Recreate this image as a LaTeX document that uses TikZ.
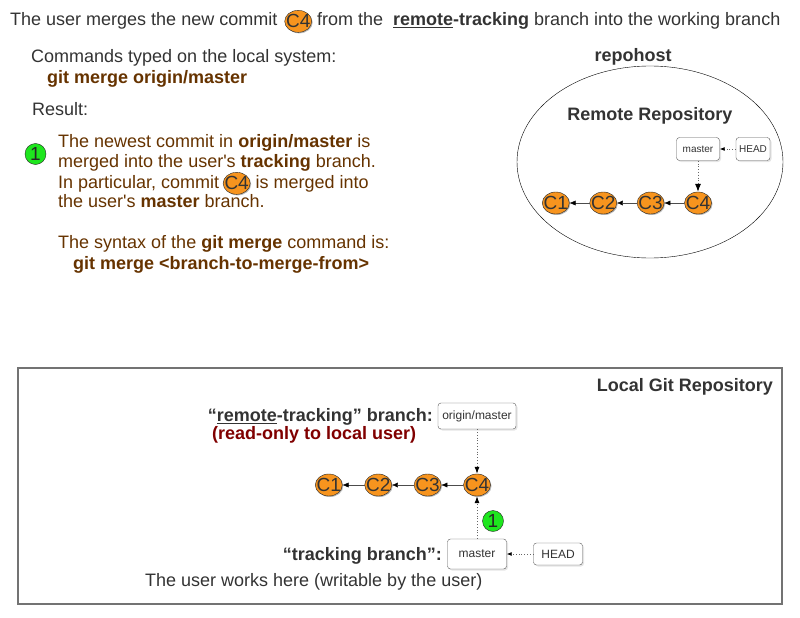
\documentclass[tikz,border=0pt]{standalone}
\usepackage{fontspec}
\setmainfont{Liberation Sans}
\usetikzlibrary{positioning,shapes.geometric,shadows,arrows.meta}
\definecolor{brownish}{RGB}{102,51,0}
\definecolor{darkred}{RGB}{128,0,0}
\definecolor{commitfill}{RGB}{247,148,30}
\definecolor{onefill}{RGB}{30,230,30}

\begin{document}
\begin{tikzpicture}[x=1pt,y=-1pt,
    txt/.style={inner sep=0pt,text=black!80,font=\fontsize{18}{20}\selectfont},
    brn/.style={txt,text=brownish},
    commit/.style={ellipse,draw=black!85,fill=commitfill,text=black!80,
      minimum width=27pt,minimum height=22pt,inner sep=-3pt,
      font=\fontsize{19}{19}\selectfont,
      drop shadow={shadow xshift=1pt,shadow yshift=-1pt,fill=black!55}},
    one/.style={circle,draw=black!85,fill=onefill,text=black!85,
      minimum size=21pt,inner sep=-3pt,font=\fontsize{19}{19}\selectfont},
    ref/.style={draw=black!65,rounded corners=3pt,fill=white,text=black!80,inner sep=0pt,
      drop shadow={shadow xshift=1.5pt,shadow yshift=-1.5pt,fill=black!20}},
    link/.style={draw=black!70,-{Latex[length=6pt,width=5pt,color=black]}},
    ptr/.style={dotted,thick,draw=black!60,-{Latex[length=5pt,width=4pt,color=black]}},
    bigptr/.style={ptr,-{Latex[length=8pt,width=6pt,color=black]}}]
  \useasboundingbox (0,0) rectangle (800,618);

  % heading
  \node[txt,anchor=base west] (title1) at (10,26) {The user merges the new commit};
  \node[commit,right=7pt of title1] (t4) {C4};
  \node[txt,anchor=base west,xshift=5pt] (title2) at (t4.east |- title1.base)
    {from the\ \ \textbf{\underline{remote}-tracking} branch into the working branch};

  % left column
  \node[txt,anchor=base west] (cmd) at (31,63) {Commands typed on the local system:};
  \node[brn,anchor=base west] (cmd2) at (47,83) {\textbf{git merge origin/master}};
  \node[txt,anchor=base west] (res) at (32,115) {Result:};

  \node[one] (n1) at (35.5,154) {1};
  \node[brn,anchor=base west] (p1) at (58,147) {The newest commit in \textbf{origin/master} is};
  \node[brn,anchor=base west] (p2) at (58,167.5) {merged into the user\textquotesingle s \textbf{tracking} branch.};
  \node[brn,anchor=base west] (p3) at (58,188) {In particular, commit};
  \node[commit,right=3.5pt of p3] (p4) {C4};
  \node[brn,anchor=base west,xshift=5pt] (p3b) at (p4.east |- p3.base) {is merged into};
  \node[brn,anchor=base west] (p5) at (58,207.5) {the user\textquotesingle s \textbf{master} branch.};
  \node[brn,anchor=base west] (syn) at (58,248) {The syntax of the \textbf{git merge} command is:};
  \node[brn,anchor=base west] (syn2) at (73,269.5) {\textbf{git merge <branch-to-merge-from>}};

  % remote side
  \node[txt,anchor=base] (host) at (633,62) {\textbf{repohost}};
  \node[draw,ellipse,thin,minimum width=266pt,minimum height=192pt] (remote) at (650,162) {};
  \node[txt,anchor=base] (rname) at (650,120) {\textbf{Remote Repository}};

  \node[ref,minimum width=43pt,minimum height=23pt,font=\fontsize{10}{10}\selectfont] (rmaster) at (698,149) {master};
  \node[ref,minimum width=34pt,minimum height=23pt,font=\fontsize{10}{10}\selectfont] (rhead) at (753,149) {HEAD};
  \node[commit] (r4) at (698,203) {C4};
  \node[commit,left=20pt of r4] (r3) {C3};
  \node[commit,left=20pt of r3] (r2) {C2};
  \node[commit,left=20pt of r2] (r1) {C1};

  \draw[ptr] (rhead) -- (rmaster);
  \draw[bigptr] (rmaster) -- (r4);
  \draw[link] (r4) -- (r3);
  \draw[link] (r3) -- (r2);
  \draw[link] (r2) -- (r1);

  % local repository
  \node[draw=black!55,line width=1.5pt,minimum width=764pt,minimum height=236pt] (local) at (400,486) {};
  \node[txt,anchor=base east] (lname) at (773,391) {\textbf{Local Git Repository}};

  \node[txt,anchor=base east] (rtlabel) at (433,421.5) {\textbf{“\underline{remote}-tracking” branch:}};
  \node[txt,anchor=base west,text=darkred] (rolabel) at (212,439.5) {\textbf{(read-only to local user)}};
  \node[ref,minimum width=78pt,minimum height=26pt,font=\fontsize{12}{12}\selectfont] (origin) at (477,416) {origin/master};

  \node[commit] (l4) at (477,485) {C4};
  \node[commit,left=22pt of l4] (l3) {C3};
  \node[commit,left=22pt of l3] (l2) {C2};
  \node[commit,left=22pt of l2] (l1) {C1};

  \node[ref,minimum width=59pt,minimum height=30pt,font=\fontsize{12}{12}\selectfont] (lmaster) at (477,554) {master};
  \node[ref,minimum width=49pt,minimum height=22pt,font=\fontsize{12}{12}\selectfont] (lhead) at (558,554) {HEAD};
  \node[one] (n1b) at (493,521) {1};

  \node[txt,anchor=base east] (trlabel) at (442,560) {\textbf{“tracking branch”:}};
  \node[txt,anchor=base west] (works) at (145,586) {The user works here (writable by the user)};

  \draw[ptr,-{Latex[length=7pt,width=5pt,color=black]}] (origin) -- (l4);
  \draw[ptr,-{Latex[length=7pt,width=5pt,color=black]}] (lmaster) -- (l4);
  \draw[ptr] (lhead) -- (lmaster);
  \draw[link] (l4) -- (l3);
  \draw[link] (l3) -- (l2);
  \draw[link] (l2) -- (l1);
\end{tikzpicture}
\end{document}
